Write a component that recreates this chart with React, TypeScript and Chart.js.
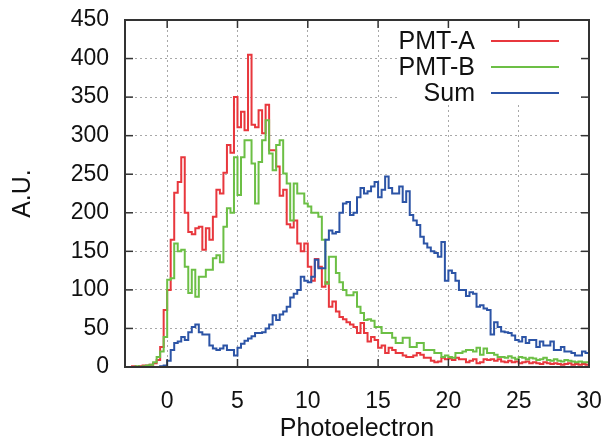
import React, { useEffect, useRef } from "react";
import { Chart, registerables } from "chart.js";

Chart.register(...registerables);

// Histogram bins: start at -3, width 0.25 (132 bins up to 30)
const binStart = -3;
const binWidth = 0.25;
const xMin = -3;
const xMax = 30;
const yMin = 0;
const yMax = 450;
const xTicks = [0, 5, 10, 15, 20, 25, 30];
const yTicks = [0, 50, 100, 150, 200, 250, 300, 350, 400, 450];
const seriesNames = ["PMT-A", "PMT-B", "Sum"];
const xTitle = "Photoelectron";
const yTitle = "A.U.";

// one row per integer unit (4 bins each)
const pmtA = [
  0, 0, 1, 0, // -3
  1, 2, 2, 3, // -2
  5, 9, 26, 74, // -1
  100, 165, 226, 240, // 0
  272, 200, 175, 172, // 1
  180, 182, 152, 180, // 2
  165, 195, 230, 225, // 3
  252, 288, 278, 350, // 4
  311, 331, 307, 405, // 5
  314, 311, 333, 303, // 6
  340, 281, 281, 260, // 7
  222, 230, 185, 181, // 8
  190, 160, 150, 160, // 9
  130, 112, 140, 130, // 10
  104, 110, 78, 85, // 11
  72, 65, 62, 58, // 12
  55, 52, 44, 57, // 13
  44, 33, 39, 35, // 14
  25, 28, 18, 25, // 15
  22, 18, 18, 15, // 16
  13, 13, 15, 18, // 17
  16, 12, 12, 8, // 18
  6, 7, 12, 10, // 19
  11, 9, 12, 10, // 20
  10, 6, 8, 10, // 21
  5, 6, 10, 9, // 22
  10, 8, 10, 7, // 23
  6, 8, 6, 7, // 24
  5, 6, 7, 5, // 25
  6, 5, 4, 6, // 26
  5, 4, 5, 4, // 27
  3, 4, 5, 3, // 28
  4, 3, 4, 3, // 29
];

const pmtB = [
  0, 0, 0, 1, // -3
  0, 1, 2, 3, // -2
  6, 13, 20, 39, // -1
  113, 115, 160, 150, // 0
  152, 130, 96, 126, // 1
  91, 117, 117, 126, // 2
  126, 141, 145, 136, // 3
  182, 206, 200, 272, // 4
  223, 272, 294, 294, // 5
  264, 212, 266, 294, // 6
  320, 277, 255, 288, // 7
  294, 251, 238, 190, // 8
  238, 225, 225, 212, // 9
  208, 200, 200, 195, // 10
  165, 108, 143, 143, // 11
  122, 110, 100, 93, // 12
  93, 97, 78, 70, // 13
  61, 62, 60, 52, // 14
  52, 44, 44, 44, // 15
  38, 31, 31, 38, // 16
  38, 26, 26, 31, // 17
  31, 22, 22, 22, // 18
  18, 18, 13, 15, // 19
  13, 12, 18, 18, // 20
  20, 22, 22, 20, // 21
  25, 16, 24, 18, // 22
  18, 16, 13, 13, // 23
  12, 14, 12, 10, // 24
  13, 12, 10, 12, // 25
  11, 9, 10, 12, // 26
  9, 8, 10, 8, // 27
  7, 9, 8, 7, // 28
  6, 7, 6, 6, // 29
];

const sumAB = [
  0, 0, 0, 0, // -3
  0, 0, 0, 0, // -2
  0, 0, 1, 2, // -1
  8, 22, 31, 33, // 0
  39, 35, 45, 52, // 1
  55, 45, 42, 42, // 2
  28, 24, 22, 24, // 3
  28, 22, 22, 15, // 4
  25, 30, 34, 37, // 5
  40, 44, 44, 45, // 6
  50, 55, 67, 61, // 7
  68, 72, 78, 90, // 8
  95, 100, 117, 112, // 9
  110, 117, 139, 128, // 10
  128, 165, 177, 173, // 11
  175, 200, 212, 214, // 12
  197, 200, 220, 232, // 13
  225, 228, 234, 240, // 14
  220, 230, 247, 232, // 15
  225, 225, 234, 214, // 16
  228, 197, 190, 184, // 17
  169, 160, 155, 150, // 18
  148, 143, 162, 112, // 19
  125, 122, 112, 100, // 20
  100, 92, 97, 95, // 21
  78, 80, 76, 74, // 22
  42, 58, 52, 46, // 23
  45, 44, 41, 35, // 24
  33, 39, 31, 35, // 25
  35, 26, 33, 28, // 26
  28, 33, 22, 22, // 27
  26, 20, 20, 18, // 28
  15, 15, 20, 18, // 29
];

const seriesValues = [pmtA, pmtB, sumAB];
const seriesColors = ["#e8373d", "#6cbf45", "#2c54a6"];

function toPoints(values: number[]) {
  const pts = values.map((v, i) => ({ x: binStart + i * binWidth, y: v }));
  pts.push({ x: binStart + values.length * binWidth, y: values[values.length - 1] });
  return pts;
}

const FONT = '"Liberation Sans", Arial, Helvetica, sans-serif';

const framePlugin = {
  id: "gnuFrame",
  beforeDatasetsDraw(chart: any) {
    const { ctx, chartArea: a } = chart;
    ctx.save();
    ctx.fillStyle = "#ffffff";
    ctx.fillRect(a.right - 190, a.top + 1, 182, 84);
    ctx.restore();
  },
  afterDraw(chart: any) {
    const { ctx, chartArea: a, scales } = chart;
    const line = (x1: number, y1: number, x2: number, y2: number) => {
      ctx.beginPath();
      ctx.moveTo(x1, y1);
      ctx.lineTo(x2, y2);
      ctx.stroke();
    };
    ctx.save();
    ctx.strokeStyle = "#333";
    ctx.lineWidth = 1.5;
    const tl = 8;
    xTicks.forEach((v) => {
      const px = scales.x.getPixelForValue(v);
      line(px, a.bottom, px, a.bottom - tl);
      line(px, a.top, px, a.top + tl);
    });
    yTicks.forEach((v) => {
      const py = scales.y.getPixelForValue(v);
      line(a.left, py, a.left + tl, py);
      line(a.right, py, a.right - tl, py);
    });
    ctx.lineWidth = 2;
    ctx.strokeRect(a.left, a.top, a.right - a.left, a.bottom - a.top);

    // gnuplot-style key
    ctx.font = "25px " + FONT;
    ctx.textAlign = "right";
    ctx.textBaseline = "middle";
    seriesNames.forEach((name, i) => {
      const y = a.top + 21 + i * 26;
      ctx.fillStyle = "#111";
      ctx.fillText(name, a.right - 114, y + 1);
      ctx.strokeStyle = seriesColors[i];
      ctx.lineWidth = 2;
      line(a.right - 98, y, a.right - 30, y);
    });
    ctx.restore();
  },
};

export default function App() {
  const ref = useRef<HTMLCanvasElement | null>(null);
  useEffect(() => {
    if (!ref.current) return;
    const chart = new Chart(ref.current, {
      type: "line",
      data: {
        datasets: seriesNames.map((name, i) => ({
          label: name,
          data: toPoints(seriesValues[i]),
          borderColor: seriesColors[i],
          backgroundColor: seriesColors[i],
          borderWidth: 2,
          pointRadius: 0,
          stepped: "before" as const,
          fill: false,
          order: seriesNames.length - i,
        })),
      },
      options: {
        responsive: false,
        animation: false,
        events: [],
        layout: { padding: { left: 0, right: 19, top: 20, bottom: 0 } },
        plugins: { legend: { display: false }, tooltip: { enabled: false } },
        scales: {
          x: {
            type: "linear",
            min: xMin,
            max: xMax,
            afterBuildTicks: (s: any) => {
              s.ticks = xTicks.map((v) => ({ value: v }));
            },
            afterFit: (s: any) => {
              s.height = 77;
              s.paddingLeft = 0;
              s.paddingRight = 0;
            },
            grid: { color: "#a8a8a8", lineWidth: 1, drawTicks: false },
            border: { display: false, dash: [2, 3] },
            ticks: {
              color: "#111",
              font: { family: FONT, size: 23 },
              padding: 21,
              maxRotation: 0,
            },
            title: {
              display: true,
              text: xTitle,
              color: "#111",
              font: { family: FONT, size: 25 },
              padding: { top: 0, bottom: 0 },
            },
          },
          y: {
            type: "linear",
            min: yMin,
            max: yMax,
            afterBuildTicks: (s: any) => {
              s.ticks = yTicks.map((v) => ({ value: v }));
            },
            afterFit: (s: any) => {
              s.width = 125;
              s.paddingTop = 0;
              s.paddingBottom = 0;
            },
            grid: { color: "#a8a8a8", lineWidth: 1, drawTicks: false },
            border: { display: false, dash: [2, 3] },
            ticks: {
              color: "#111",
              font: { family: FONT, size: 23 },
              padding: 16,
            },
            title: {
              display: true,
              text: yTitle,
              color: "#111",
              font: { family: FONT, size: 25 },
              padding: { top: 8, bottom: 0 },
            },
          },
        },
      },
      plugins: [framePlugin],
    });
    return () => chart.destroy();
  }, []);
  return (
    <canvas
      ref={ref}
      width={608}
      height={444}
      style={{ position: "absolute", left: 0, top: 0, width: 608, height: 444 }}
    />
  );
}
